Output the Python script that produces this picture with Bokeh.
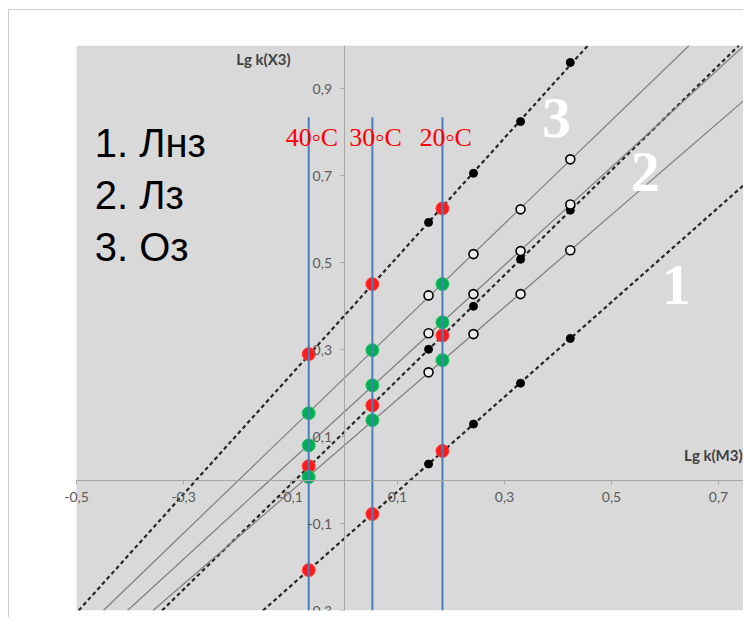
import numpy as np
from bokeh.plotting import figure
from bokeh.models import Range1d, FixedTicker, CustomJSTickFormatter, Slope, BoxAnnotation
from bokeh.core.properties import value
from bokeh.embed import file_html
from bokeh.resources import INLINE

# ---- data ----
temp_labels = ["40◦C", "30◦C", "20◦C"]
temp_x = [-0.066, 0.053, 0.184]
temp_line_top = 0.835

ref_x = [0.158, 0.242, 0.330, 0.423]

# dashed series: red = at temperature lines, black = reference points
d3_red = [0.290, 0.451, 0.625]
d3_black = [0.593, 0.706, 0.825, 0.961]
d2_red = [0.032, 0.172, 0.333]
d2_black = [0.301, 0.400, 0.508, 0.621]
d1_red = [-0.207, -0.078, 0.067]
d1_black = [0.037, 0.129, 0.223, 0.326]

# solid series: green = at temperature lines, open = reference points
sa_green = [0.154, 0.299, 0.451]
sa_open = [0.425, 0.520, 0.623, 0.738]
sb_green = [0.080, 0.218, 0.363]
sb_open = [0.338, 0.428, 0.527, 0.634]
sc_green = [0.007, 0.138, 0.276]
sc_open = [0.248, 0.336, 0.428, 0.529]

x_ticks = [-0.5, -0.3, -0.1, 0.1, 0.3, 0.5, 0.7]
y_ticks = [-0.3, -0.1, 0.1, 0.3, 0.5, 0.7, 0.9]
x_min = -0.5

legend_items = ["1. Лнз", "2. Лз", "3. Оз"]
curve_numbers = ["3", "2", "1"]
x_title = "Lg k(M3)"
y_title = "Lg k(X3)"

# ---- figure ----
p = figure(width=735, height=608,
           x_range=Range1d(-0.53, 0.7486), y_range=Range1d(-0.3, 1.0),
           output_backend="svg", toolbar_location=None,
           min_border_left=51, min_border_right=0,
           min_border_top=35, min_border_bottom=8,
           background_fill_color="white", border_fill_color="white",
           styles={"margin-left": "8px", "margin-top": "9px",
                   "border-top": "1px solid #cfcfcf", "border-left": "1px solid #cfcfcf"})
p.outline_line_color = None
p.grid.visible = False

# plot-area background starting at the axis minimum
p.add_layout(BoxAnnotation(left=x_min, fill_color="#d9d9d9", fill_alpha=1.0,
                           line_color=None, level="image"))

fmt = CustomJSTickFormatter(code="return tick.toFixed(1).replace('.', ',');")
for ax, ticks in ((p.xaxis, x_ticks), (p.yaxis, y_ticks)):
    ax.fixed_location = 0
    ax.ticker = FixedTicker(ticks=ticks)
    ax.formatter = fmt
    ax.axis_line_color = "#a6a6a6"
    ax.major_tick_line_color = "#a6a6a6"
    ax.minor_tick_line_color = None
    ax.major_tick_in = 0
    ax.major_tick_out = 4
    ax.major_label_text_font = "Lato"
    ax.major_label_text_font_size = "14px"
    ax.major_label_text_color = "#595959"
p.xaxis.major_label_standoff = 8
p.yaxis.major_label_standoff = 8
p.xaxis.bounds = (x_min, 0.7486)

# ---- trend lines ----
def fit(xs, ys):
    g, b = np.polyfit(xs, ys, 1)
    return float(g), float(b)

dashed = [(d3_red, d3_black), (d2_red, d2_black), (d1_red, d1_black)]
solid = [(sa_green, sa_open), (sb_green, sb_open), (sc_green, sc_open)]

for red, black in dashed:
    g, b = fit(temp_x + ref_x, red + black)
    p.add_layout(Slope(gradient=g, y_intercept=b, line_color="#262626",
                       line_width=2.2, line_dash="4 3", level="underlay"))
for green, opn in solid:
    g, b = fit(temp_x + ref_x, green + opn)
    p.add_layout(Slope(gradient=g, y_intercept=b, line_color="#7f7f7f",
                       line_width=1.2, level="underlay"))

# ---- points ----
for red, black in dashed:
    p.scatter(ref_x, black, size=8, color="black")
    p.scatter(temp_x, red, size=13, fill_color="#ff1a1a", line_color="#ff4040")
for green, opn in solid:
    p.scatter(ref_x, opn, size=9, fill_color="#ececec", line_color="black", line_width=1.6)
    p.scatter(temp_x, green, size=13, fill_color="#00b050", line_color="#2cc070")

# ---- vertical temperature lines ----
p.segment(x0=temp_x, y0=[temp_line_top] * 3, x1=temp_x, y1=[-0.3] * 3,
          line_color="#4a7ebb", line_width=2)

p.text(x=[x + 0.006 for x in temp_x], y=[0.789] * 3, text=temp_labels,
       text_font=value("Liberation Serif"), text_font_size="26px",
       text_color="#ff0000", text_align="center", text_baseline="alphabetic")

# ---- legend-like text ----
p.text(x=[-0.466] * 3, y=[0.775, 0.655, 0.536], text=legend_items,
       text_font=value("Liberation Sans"), text_font_size="40px",
       text_color="black", text_align="left", text_baseline="alphabetic")

# ---- curve numbers ----
p.text(x=[0.397, 0.563, 0.621], y=[0.834, 0.708, 0.448], text=curve_numbers,
       text_font=value("Liberation Serif"), text_font_size="58px", text_font_style="bold",
       text_color="white", text_align="center", text_baseline="alphabetic")

# ---- axis titles ----
p.text(x=[-0.100], y=[0.970], text=[y_title], text_font=value("Lato"),
       text_font_size="15px", text_font_style="bold", text_color="#404040",
       text_align="right", text_baseline="middle")
p.text(x=[0.745], y=[0.0575], text=[x_title], text_font=value("Lato"),
       text_font_size="15px", text_font_style="bold", text_color="#404040",
       text_align="right", text_baseline="middle")

open("out.html", "w").write(file_html(p, INLINE))
